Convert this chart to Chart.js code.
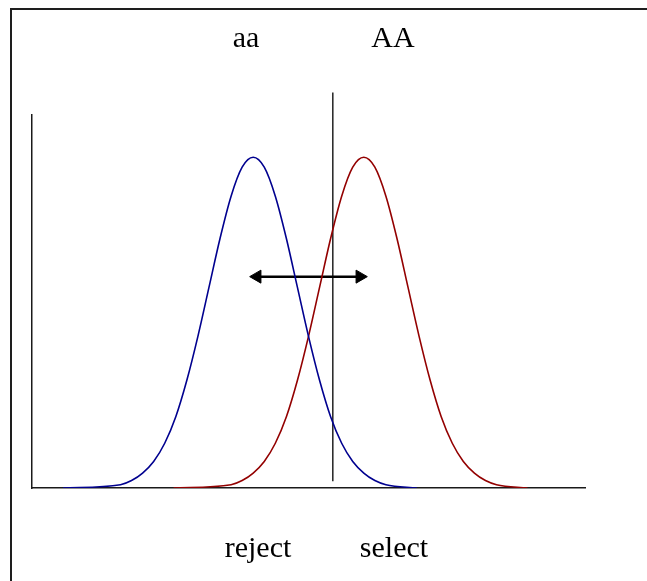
<!DOCTYPE html>
<html>
<head>
<meta charset="utf-8">
<script src="https://cdn.jsdelivr.net/npm/chart.js@4/dist/chart.umd.min.js"></script>
<style>
	body { margin: 0; background: #fff; }
	#wrap { position: relative; width: 647px; height: 581px; overflow: hidden; }
	#frame {
		position: absolute; left: 10px; top: 8px; width: 700px; height: 640px;
		border-left: 2px solid #1e1e1e; border-top: 2px solid #1e1e1e;
	}
	canvas { position: absolute; left: 0; top: 0; }
	.lbl {
		position: absolute; font-family: "Liberation Serif", "Times New Roman", serif;
		font-size: 30px; line-height: 30px; color: #000; white-space: nowrap;
		transform: translateX(-50%);
	}
</style>
</head>
<body>
<div id="wrap">
	<div id="frame"></div>
	<canvas id="my-chart" width="647" height="581"></canvas>
	<div class="lbl" style="left:246px; top:22px;">aa</div>
	<div class="lbl" style="left:393px; top:22px;">AA</div>
	<div class="lbl" style="left:258px; top:532px;">reject</div>
	<div class="lbl" style="left:394px; top:532px;">select</div>
</div>
<script>
// CURVE DATA (aa on the left, AA on the right)
const blueX = [0.7, 2.0, 2.25, 2.5, 2.75, 3.0, 3.25, 3.5, 3.75, 4.0, 4.25, 4.5, 4.75, 5.0, 5.25, 5.5, 5.75, 6.0, 6.25, 6.5, 6.75, 7.0, 7.25, 7.5, 7.75, 8.0, 8.7];
const blueY = [0, 0.004, 0.009, 0.018, 0.032, 0.054, 0.086, 0.130, 0.183, 0.242, 0.301, 0.352, 0.387, 0.399, 0.387, 0.352, 0.301, 0.242, 0.183, 0.130, 0.086, 0.054, 0.032, 0.018, 0.009, 0.004, 0];
const redX = [3.2, 4.5, 4.75, 5.0, 5.25, 5.5, 5.75, 6.0, 6.25, 6.5, 6.75, 7.0, 7.25, 7.5, 7.75, 8.0, 8.25, 8.5, 8.75, 9.0, 9.25, 9.5, 9.75, 10.0, 10.25, 10.5, 11.2];
const redY = [0, 0.004, 0.009, 0.018, 0.032, 0.054, 0.086, 0.130, 0.183, 0.242, 0.301, 0.352, 0.387, 0.399, 0.387, 0.352, 0.301, 0.242, 0.183, 0.130, 0.086, 0.054, 0.032, 0.018, 0.009, 0.004, 0];

// CUT-OFF LINE AND THE DOUBLE ARROW
const cutX = [6.8, 6.8];
const cutY = [0.008, 0.477];
const arrowX = [5.09, 7.41];
const arrowY = [0.255, 0.255];

// AXIS RANGE
const xRange = [0, 12.5];
const yRange = [0, 0.45];

function toPoints(xs, ys) {
	return xs.map((x, i) => ({ x: x, y: ys[i] }));
}

function hiddenScale(range) {
	return {
		type: 'linear',
		min: range[0],
		max: range[1],
		grid: { display: false, drawTicks: false },
		ticks: { display: false },
		border: { display: true, color: '#1a1a1a', width: 1.5 }
	};
}

const ctx = document.getElementById('my-chart');
new Chart(ctx, {
	type: 'line',
	data: {
		datasets: [{
			data: toPoints(blueX, blueY),
			borderColor: '#00008f',
			borderWidth: 1.6,
			pointRadius: 0,
			cubicInterpolationMode: 'monotone'
		},
		{
			data: toPoints(redX, redY),
			borderColor: '#930000',
			borderWidth: 1.6,
			pointRadius: 0,
			cubicInterpolationMode: 'monotone'
		},
		{
			data: toPoints(cutX, cutY),
			borderColor: '#000',
			borderWidth: 1.3,
			pointRadius: 0,
			clip: false
		},
		{
			data: toPoints(arrowX, arrowY),
			borderColor: '#000',
			backgroundColor: '#000',
			borderWidth: 2.5,
			pointStyle: 'triangle',
			pointRadius: 7.5,
			pointBorderWidth: 1,
			pointRotation: [-90, 90],
			clip: false
		}]
	},
	options: {
		responsive: false,
		animation: false,
		events: [],
		layout: { padding: { left: 32, right: 62, top: 115, bottom: 93 } },
		plugins: {
			legend: { display: false },
			tooltip: { enabled: false }
		},
		scales: {
			x: hiddenScale(xRange),
			y: hiddenScale(yRange)
		}
	}
});
</script>
</body>
</html>
